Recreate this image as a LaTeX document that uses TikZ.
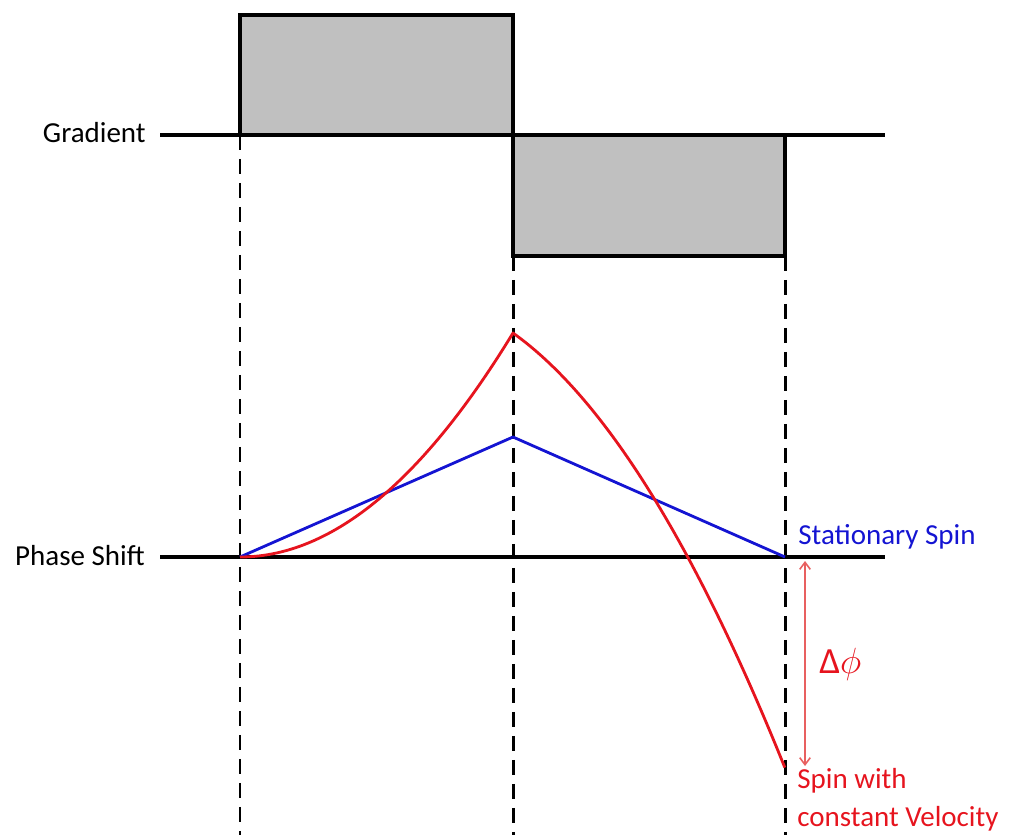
\documentclass[tikz,border=0pt]{standalone}
\usepackage{xcolor}
\usepackage{fontspec}
\setmainfont{Carlito}
\usepackage{tikz}
\usetikzlibrary{arrows.meta, positioning}

\definecolor{lobegray}{RGB}{192,192,192}
\definecolor{spinred}{RGB}{230,20,30}
\definecolor{spinblue}{RGB}{20,20,210}
\definecolor{deltared}{RGB}{232,96,96}

\begin{document}
\begin{tikzpicture}[
        x=0.02cm, y=-0.02cm,
        axis/.style={line width=2pt},
        lobe/.style={draw, line width=2pt, fill=lobegray},
        guide/.style={line width=1.7pt, dash pattern=on 0.3cm off 0.18cm},
        label/.style={font=\fontsize{16.5}{21.5}\selectfont, inner sep=0pt},
        curve/.style={line width=1.6pt, line join=round},
        arrow/.style={{Straight Barb[length=4pt,width=6pt]}-{Straight Barb[length=4pt,width=6pt]}, line width=0.9pt, deltared}
        ]
        \useasboundingbox (0,0) rectangle (1014,835);

        % time points of the gradient
        \coordinate (t0) at (240,135);
        \coordinate (t1) at (513,135);
        \coordinate (t2) at (785,135);

        % gradient lobes
        \draw[lobe] (t0) rectangle (513,15);
        \draw[lobe] (t1) rectangle (785,256);
        \node[label, anchor=east] (grad) at (146,133) {Gradient};
        \draw[axis] (160,135) -- (885,135);

        % guides down to the bottom
        \draw[guide] (t0) -- (240,835);
        \draw[guide] (513,256) -- (513,835);
        \draw[guide] (785,256) -- (785,835);

        % phase shift axis
        \coordinate (p0) at (240,557);
        \coordinate (p2) at (785,557);
        \node[label, anchor=east] (phase) at (145,556) {Phase Shift};
        \draw[axis] (160,557) -- (885,557);

        % stationary spin
        \coordinate (pb) at (513,437);
        \draw[curve, spinblue] (p0) -- (pb) -- (p2);
        \node[label, spinblue, anchor=west] (stat) at (798,537) {Stationary Spin};

        % moving spin
        \coordinate (pr) at (513,333);
        \coordinate (pe) at (785,768);
        \draw[curve, spinred] plot[domain=0:1, samples=60] ({240+273*\x},{557-224*\x*\x})
            -- plot[domain=0:1, samples=60] ({513+272*\x},{333+194*\x+241*\x*\x});
        \node[label, spinred, anchor=north west, align=left] (move) at (797,768) {Spin with\\constant Velocity};

        % phase difference
        \coordinate (a0) at (805,561);
        \coordinate (a1) at (805,766);
        \draw[arrow] (a0) -- (a1);
        \node[label, spinred, font=\fontsize{21}{24}\selectfont, anchor=west] (dphi) at (819,664) {Δ$\phi$};
        \end{tikzpicture}
\end{document}
